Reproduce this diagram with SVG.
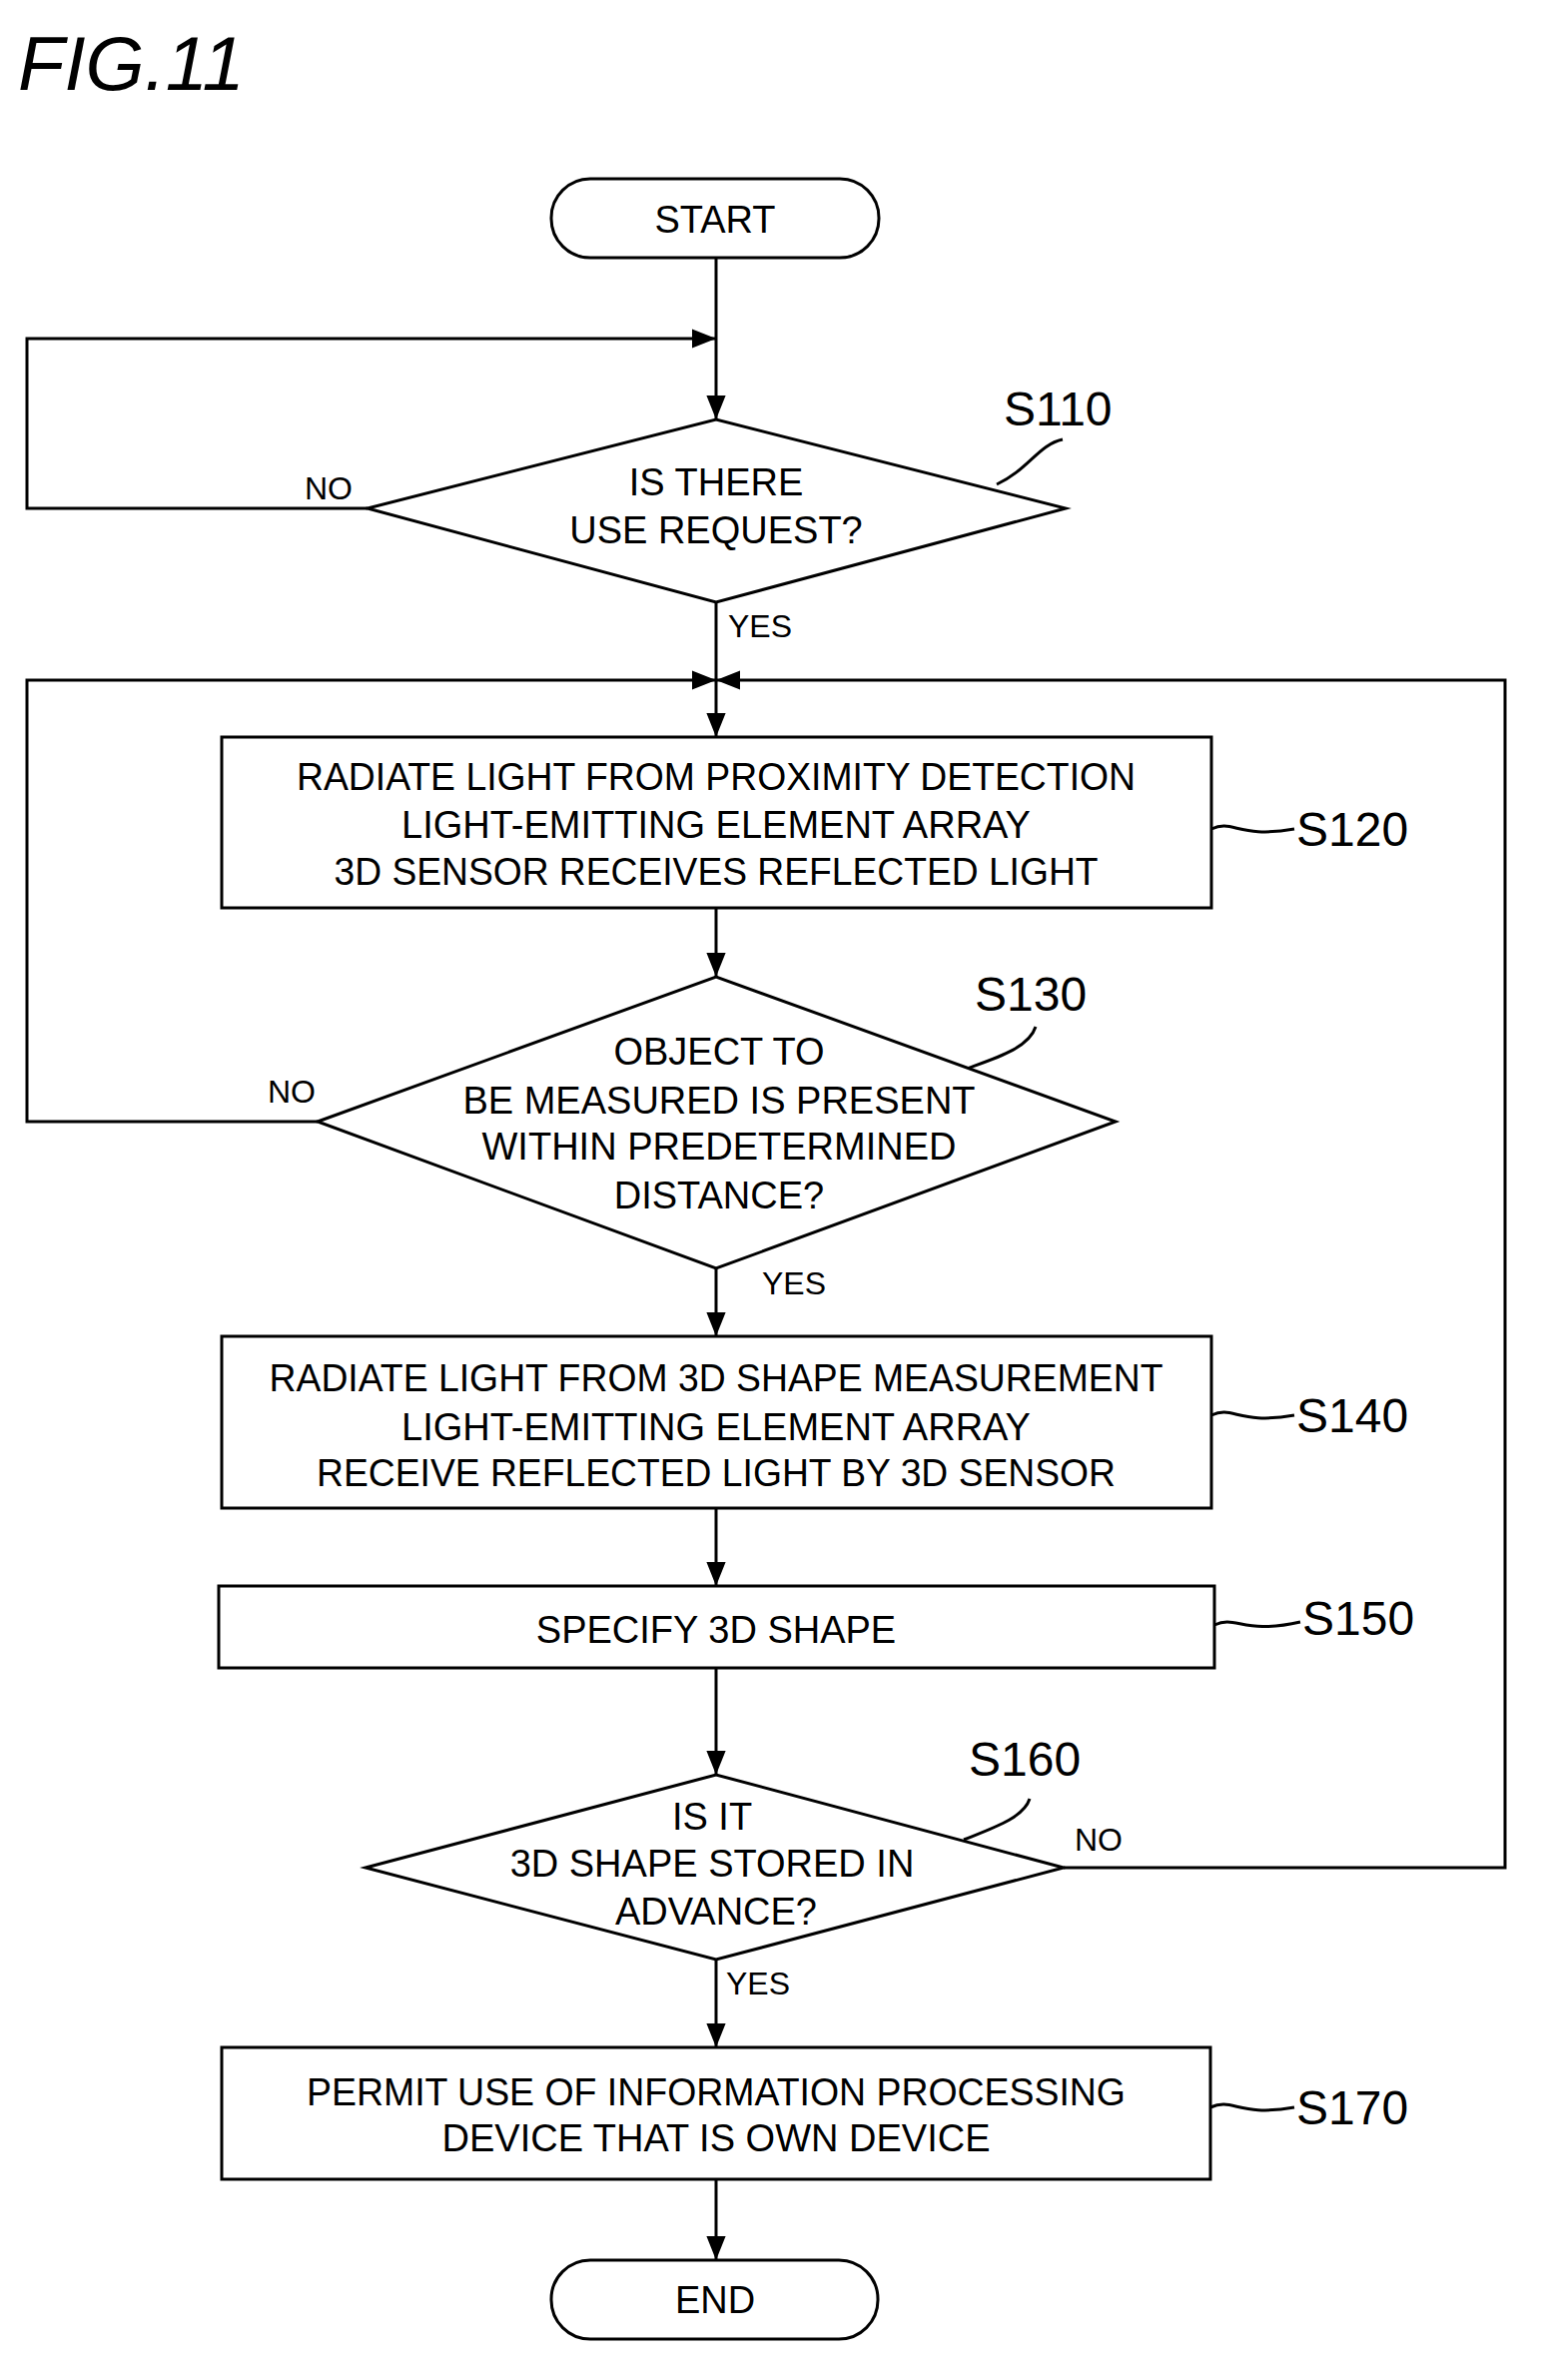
<svg xmlns="http://www.w3.org/2000/svg" width="1543" height="2383" viewBox="0 0 1543 2383">
<defs>
<style>
.s{fill:none;stroke:#000;stroke-width:3}
.b{fill:#fff;stroke:#000;stroke-width:3}
.t{font-family:"Liberation Sans",Arial,sans-serif;font-size:38px;text-anchor:middle;fill:#000}
.l{font-family:"Liberation Sans",Arial,sans-serif;font-size:48px;fill:#000}
.y{font-family:"Liberation Sans",Arial,sans-serif;font-size:32px;fill:#000}
</style>
<marker id="a" viewBox="0 0 10 10" refX="10" refY="5" markerWidth="8" markerHeight="8" orient="auto" markerUnits="userSpaceOnUse"><path d="M0,0L10,5L0,10z"/></marker>
<marker id="A" viewBox="0 0 10 10" refX="10" refY="5" markerWidth="24" markerHeight="24" orient="auto" markerUnits="userSpaceOnUse"><path d="M0,1L10,5L0,9z"/></marker>
</defs>
<rect width="1543" height="2383" fill="#fff"/>
<text x="18" y="90" style="font-family:'Liberation Sans',Arial,sans-serif;font-size:76px;font-style:italic">FIG.11</text>
<g id="connectors" class="s">
<path d="M717,258V420" marker-end="url(#A)"/>
<path d="M368,509H27V339H717" marker-end="url(#A)"/>
<path d="M717,603V738" marker-end="url(#A)"/>
<path d="M318,1123H27V681H717" marker-end="url(#A)"/>
<path d="M1065,1870H1507V681H717" marker-end="url(#A)"/>
<path d="M717,909V978" marker-end="url(#A)"/>
<path d="M717,1270V1338" marker-end="url(#A)"/>
<path d="M717,1510V1588" marker-end="url(#A)"/>
<path d="M717,1670V1777" marker-end="url(#A)"/>
<path d="M717,1962V2050" marker-end="url(#A)"/>
<path d="M717,2182V2263" marker-end="url(#A)"/>
<path d="M998,485C1030,470 1040,445 1064,440"/>
<path d="M1213,830C1235,820 1240,840 1296,830"/>
<path d="M965,1071C995,1060 1030,1050 1037,1028"/>
<path d="M1213,1417C1235,1407 1240,1427 1296,1417"/>
<path d="M1216,1627C1238,1617 1245,1637 1302,1624"/>
<path d="M965,1842C995,1830 1025,1820 1031,1801"/>
<path d="M1212,2110C1235,2100 1240,2120 1296,2110"/>
</g>
<g id="start"><rect x="552" y="179" width="328" height="79" rx="39" class="b"/><text x="716" y="233" class="t">START</text></g>
<g id="s110"><path d="M368,509L717,420L1067,509L717,603Z" class="b"/><text class="t" x="717" y="496">IS THERE</text><text class="t" x="717" y="544">USE REQUEST?</text><text class="l" x="1005" y="426">S110</text><text class="y" x="305" y="500">NO</text><text class="y" x="729" y="638">YES</text></g>
<g id="s120"><rect x="222" y="738" width="991" height="171" class="b"/><text class="t" x="717" y="791" textLength="840" lengthAdjust="spacingAndGlyphs">RADIATE LIGHT FROM PROXIMITY DETECTION</text><text class="t" x="717" y="839">LIGHT-EMITTING ELEMENT ARRAY</text><text class="t" x="717" y="886" textLength="765" lengthAdjust="spacingAndGlyphs">3D SENSOR RECEIVES REFLECTED LIGHT</text><text class="l" x="1298" y="847">S120</text></g>
<g id="s130"><path d="M318,1123L717,978L1117,1123L717,1270Z" class="b"/><text class="t" x="720" y="1066">OBJECT TO</text><text class="t" x="720" y="1115">BE MEASURED IS PRESENT</text><text class="t" x="720" y="1161">WITHIN PREDETERMINED</text><text class="t" x="720" y="1210">DISTANCE?</text><text class="l" x="976" y="1012">S130</text><text class="y" x="268" y="1104">NO</text><text class="y" x="763" y="1296">YES</text></g>
<g id="s140"><rect x="222" y="1338" width="991" height="172" class="b"/><text class="t" x="717" y="1393" textLength="895" lengthAdjust="spacingAndGlyphs">RADIATE LIGHT FROM 3D SHAPE MEASUREMENT</text><text class="t" x="717" y="1442">LIGHT-EMITTING ELEMENT ARRAY</text><text class="t" x="717" y="1488" textLength="800" lengthAdjust="spacingAndGlyphs">RECEIVE REFLECTED LIGHT BY 3D SENSOR</text><text class="l" x="1298" y="1434">S140</text></g>
<g id="s150"><rect x="219" y="1588" width="997" height="82" class="b" stroke-width="4"/><text class="t" x="717" y="1645">SPECIFY 3D SHAPE</text><text class="l" x="1304" y="1637">S150</text></g>
<g id="s160"><path d="M366,1870L717,1777L1065,1870L717,1962Z" class="b"/><text class="t" x="713" y="1832">IS IT</text><text class="t" x="713" y="1879">3D SHAPE STORED IN</text><text class="t" x="717" y="1927">ADVANCE?</text><text class="l" x="970" y="1778">S160</text><text class="y" x="1076" y="1853">NO</text><text class="y" x="727" y="1997">YES</text></g>
<g id="s170"><rect x="222" y="2050" width="990" height="132" class="b"/><text class="t" x="717" y="2108" textLength="820" lengthAdjust="spacingAndGlyphs">PERMIT USE OF INFORMATION PROCESSING</text><text class="t" x="717" y="2154">DEVICE THAT IS OWN DEVICE</text><text class="l" x="1298" y="2127">S170</text></g>
<g id="end"><rect x="552" y="2263" width="327" height="79" rx="39" class="b"/><text x="716" y="2316" class="t">END</text></g>
</svg>
